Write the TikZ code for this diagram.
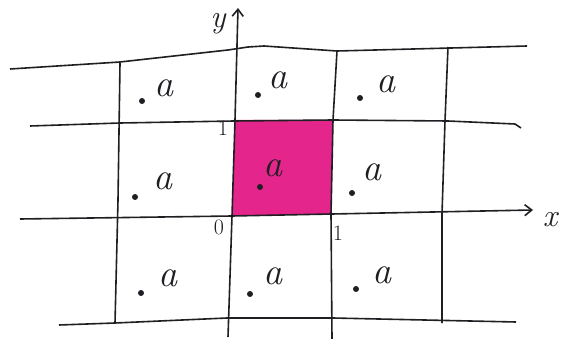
\documentclass[tikz,border=0pt]{standalone}
\usepackage{tikz}
\usetikzlibrary{arrows.meta}
\definecolor{unitpink}{RGB}{228,38,140}
\definecolor{ink}{RGB}{30,30,35}

\begin{document}
\begin{tikzpicture}[
  x=1pt, y=-1pt,
  gridline/.style={line width=1.6pt, ink, line join=round},
  axis/.style={gridline, -{Straight Barb[length=7pt, width=11pt]}},
  dotpt/.style={circle, fill=ink, inner sep=0pt, minimum size=6pt},
  alabel/.style={inner sep=0pt, text=ink, font=\fontsize{38}{44}\selectfont\itshape},
  tick/.style={inner sep=0pt, text=ink, font=\fontsize{22}{24}\selectfont},
  axlabel/.style={inner sep=0pt, text=ink, font=\fontsize{32}{36}\selectfont\itshape}
]
\useasboundingbox (0,0) rectangle (562,339);

% unit cell
\fill[unitpink] (235,120) -- (333,120) -- (331,214) -- (232,216) -- cycle;

% horizontal lines
\draw[gridline] (10,69) -- (120,62) -- (228,50) -- (248,47) -- (264,46) -- (337,51) -- (527,46);
\draw[gridline] (30,126) -- (120,123) -- (234,121) -- (333,120) -- (448,121) -- (515,124) -- (521,128);
\draw[gridline] (59,325) -- (115,323) -- (227,318) -- (333,318) -- (516,322);

% vertical lines
\draw[gridline] (120,63) -- (118,200) -- (115,323);
\draw[gridline] (337,51) -- (333,120) -- (331,214) -- (332,339);
\draw[gridline] (448,47) -- (445,121) -- (442,214) -- (442,323);

% axes
\coordinate (xstart) at (20,219);
\coordinate (xend) at (533,210);
\coordinate (ystart) at (228,337);
\coordinate (yend) at (238,8);
\draw[axis] (xstart) -- (232,216) -- (332,214) -- (xend);
\draw[axis] (ystart) -- (232,216) -- (235,120) -- (yend);

\node[axlabel] (xlab) at (550,220) {x};
\node[axlabel] (ylab) at (218,24) {y};

\node[tick] (one-y) at (223,128) {1};
\node[tick] (zero) at (219,227) {0};
\node[tick] (one-x) at (338,233) {1};

% points of the lattice
\foreach \px/\py/\lx/\ly [count=\i] in {
  142/101/164/88, 258/95/278/80, 360/98/386/84,
  135/197/163/181, 260/187/273/168, 352/193/372/172,
  141/293/168/278, 250/294/273/276, 356/289/382/275} {
  \node[dotpt] (p\i) at (\px,\py) {};
  \node[alabel] (a\i) at (\lx,\ly) {a};
}

\end{tikzpicture}
\end{document}
